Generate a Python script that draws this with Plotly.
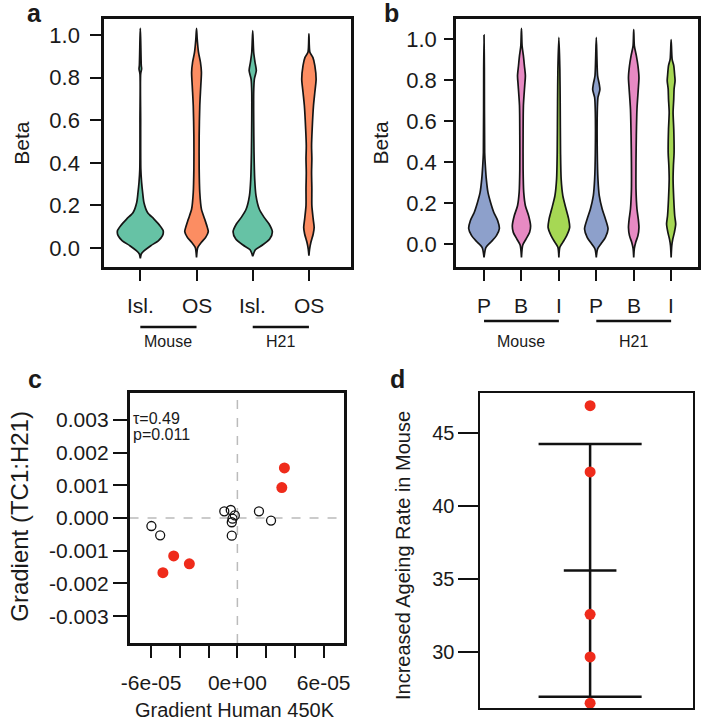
import numpy as np
import plotly.graph_objects as go

FONT = "Liberation Sans, Arial, Helvetica, sans-serif"
TXT = "#1a1a1a"

# ---------------- Panel a data (violin density profiles) ----
a_labels = ["Isl.", "OS", "Isl.", "OS"]
a_groups = ["Mouse", "H21"]
a_colors = ["#66C2A5", "#FC8D62", "#66C2A5", "#FC8D62"]

a1_beta = [1.031, 0.981, 0.856, 0.840, 0.817, 0.606, 0.371, 0.308, 0.261, 0.214, 0.167, 0.136, 0.105, 0.081, 0.058, 0.034, 0.011, -0.0125, -0.028, -0.049]
a1_hw = [0, .006, .017, .023, .006, .006, .009, .023, .041, .064, .128, .244, .349, .407, .395, .320, .186, .070, .017, 0]
a2_beta = [1.031, .981, .919, .872, .825, .762, .668, .527, .371, .261, .183, .136, .097, .077, .050, .027, .003, -.044]
a2_hw = [0, .012, .035, .070, .087, .076, .058, .047, .047, .058, .087, .145, .192, .209, .163, .087, .023, 0]
a3_beta = [1.020, .919, .872, .833, .793, .731, .606, .449, .324, .246, .183, .144, .113, .077, .042, .014, -.008, -.039]
a3_hw = [0, .017, .041, .064, .029, .017, .017, .023, .035, .058, .116, .203, .291, .349, .302, .174, .047, 0]
a4_beta = [1.005, .919, .895, .856, .793, .731, .668, .559, .480, .418, .355, .277, .199, .136, .097, .066, .027, -.005, -.036]
a4_hw = [0, .017, .070, .105, .128, .105, .081, .058, .047, .052, .047, .052, .052, .076, .093, .076, .035, .012, 0]

# ---------------- Panel b data ------------------------------------------------
b_labels = ["P", "B", "I", "P", "B", "I"]
b_groups = ["Mouse", "H21"]
b_colors = ["#8DA0CB", "#E78AC3", "#A6D854", "#8DA0CB", "#E78AC3", "#A6D854"]

b1_beta = [1.020, .854, .447, .382, .317, .252, .203, .154, .114, .076, .041, .011, -.016, -.065]
b1_hw = [0, .009, .017, .035, .061, .105, .175, .262, .366, .410, .332, .192, .052, 0]
b2_beta = [1.052, .967, .919, .870, .821, .772, .675, .528, .366, .252, .187, .138, .089, .057, .024, -.005, -.065]
b2_hw = [0, .017, .052, .079, .105, .087, .052, .044, .044, .061, .105, .192, .244, .218, .122, .035, 0]
b3_beta = [1.008, .854, .691, .447, .317, .236, .171, .122, .081, .041, .008, -.016, -.065]
b3_hw = [0, .026, .035, .044, .061, .105, .192, .262, .288, .209, .105, .026, 0]
b4_beta = [1.008, .821, .780, .753, .715, .642, .447, .317, .236, .171, .122, .073, .033, 0.0, -.024, -.065]
b4_hw = [0, .035, .079, .096, .044, .026, .026, .044, .079, .157, .244, .314, .244, .122, .035, 0]
b5_beta = [1.046, .967, .919, .870, .813, .756, .659, .528, .398, .268, .171, .122, .081, .041, .008, -.021, -.065]
b5_hw = [0, .017, .070, .113, .140, .122, .087, .070, .061, .061, .087, .122, .140, .113, .052, .017, 0]
b6_beta = [.997, .902, .870, .821, .797, .756, .707, .642, .561, .447, .382, .317, .220, .138, .098, .057, .024, -.008, -.065]
b6_hw = [0, .026, .070, .096, .105, .079, .070, .052, .070, .079, .061, .052, .070, .096, .122, .087, .044, .017, 0]

# ---------------- Panel c data ------------------------------------------------
c_open_x = [-5.98e-5, -5.37e-5, -0.91e-5, -0.46e-5, -0.18e-5, -0.34e-5, -0.39e-5, -0.39e-5, 1.50e-5, 2.34e-5]
c_open_y = [-0.000245, -0.00053, 0.000205, 0.000245, 0.00008, -0.00002, -0.00013, -0.00054, 0.000205, -0.00008]
c_red_x = [3.27e-5, 3.09e-5, -4.43e-5, -3.34e-5, -5.18e-5]
c_red_y = [0.00153, 0.00093, -0.00116, -0.0014, -0.00167]
c_xticks = [-6e-5, -4e-5, -2e-5, 0, 2e-5, 4e-5, 6e-5]
c_xticktext = ["-6e-05", "", "", "0e+00", "", "", "6e-05"]
c_yticks = [0.003, 0.002, 0.001, 0.0, -0.001, -0.002, -0.003]
c_yticktext = ["0.003", "0.002", "0.001", "0.000", "-0.001", "-0.002", "-0.003"]
c_stats = ["τ=0.49", "p=0.011"]

# ---------------- Panel d data ------------------------------------------------
d_values = [46.87, 42.33, 32.58, 29.66, 26.49]
d_yticks = [30, 35, 40, 45]


def px(x):
    return x / 708.0


def py(y):
    return 1 - y / 722.0


fig = go.Figure()


def add_violin(center, beta, hw, color, xa, ya):
    xr = [center + h for h in hw]
    xl = [center - h for h in hw][::-1]
    yy = list(beta) + list(beta)[::-1]
    fig.add_trace(go.Scatter(
        x=xr + xl, y=yy, mode="lines", fill="toself", fillcolor=color,
        line=dict(color="#151515", width=1.7, shape="spline", smoothing=0.7),
        xaxis=xa, yaxis=ya, hoverinfo="skip", showlegend=False))


a_prof = [(a1_beta, a1_hw), (a2_beta, a2_hw), (a3_beta, a3_hw), (a4_beta, a4_hw)]
for i, (bt, hw) in enumerate(a_prof):
    add_violin(i + 1, bt, hw, a_colors[i], "x", "y")

b_prof = [(b1_beta, b1_hw), (b2_beta, b2_hw), (b3_beta, b3_hw),
          (b4_beta, b4_hw), (b5_beta, b5_hw), (b6_beta, b6_hw)]
for i, (bt, hw) in enumerate(b_prof):
    add_violin(i + 1, bt, hw, b_colors[i], "x2", "y2")

# panel c
fig.add_trace(go.Scatter(x=c_open_x, y=c_open_y, mode="markers",
                         marker=dict(symbol="circle-open", size=9, color="#111",
                                     line=dict(width=1.3, color="#111")),
                         xaxis="x3", yaxis="y3", showlegend=False))
fig.add_trace(go.Scatter(x=c_red_x, y=c_red_y, mode="markers",
                         marker=dict(symbol="circle", size=11, color="#EF2B1B"),
                         xaxis="x3", yaxis="y3", showlegend=False))

# panel d
mean_d = float(np.mean(d_values))
sd_d = float(np.std(d_values, ddof=1))
LW = 2.5
fig.add_trace(go.Scatter(x=[1, 1], y=[mean_d - sd_d, mean_d + sd_d], mode="lines",
                         line=dict(color="#111", width=LW), xaxis="x4", yaxis="y4",
                         showlegend=False))
for yv, hwid in [(mean_d + sd_d, 0.235), (mean_d - sd_d, 0.235), (mean_d, 0.12)]:
    fig.add_trace(go.Scatter(x=[1 - hwid, 1 + hwid], y=[yv, yv], mode="lines",
                             line=dict(color="#111", width=LW), xaxis="x4", yaxis="y4",
                             showlegend=False))
fig.add_trace(go.Scatter(x=[1] * len(d_values), y=d_values, mode="markers",
                         marker=dict(size=11, color="#EF2B1B"),
                         xaxis="x4", yaxis="y4", showlegend=False))

box = dict(showline=True, mirror=True, linecolor="#111", linewidth=2.5,
           showgrid=False, zeroline=False, tickcolor="#111", tickwidth=1.5,
           tickfont=dict(family=FONT, size=22, color=TXT))

layout = dict(
    width=708, height=722, margin=dict(l=0, r=0, t=0, b=0),
    paper_bgcolor="white", plot_bgcolor="white", showlegend=False,
    font=dict(family=FONT, color=TXT),
    xaxis=dict(box, domain=[px(98), px(350)], range=[0.355, 4.75],
               tickvals=[1, 2, 3, 4], ticks="outside", ticklen=11,
               showticklabels=False, anchor="y"),
    yaxis=dict(box, domain=[py(267), py(19)], range=[-0.089, 1.075],
               tickvals=[0, 0.2, 0.4, 0.6, 0.8, 1.0],
               ticktext=["0.0", "0.2", "0.4", "0.6", "0.8", "1.0"],
               ticks="outside", ticklen=11, anchor="x", ticklabelstandoff=6),
    xaxis2=dict(box, domain=[px(457), px(704)], range=[0.25, 6.72],
                tickvals=[1, 2, 3, 4, 5, 6], ticks="outside", ticklen=11,
                showticklabels=False, anchor="y2"),
    yaxis2=dict(box, domain=[py(267), py(19)], range=[-0.112, 1.098],
                tickvals=[0, 0.2, 0.4, 0.6, 0.8, 1.0],
                ticktext=["0.0", "0.2", "0.4", "0.6", "0.8", "1.0"],
                ticks="outside", ticklen=9, anchor="x2", ticklabelstandoff=3),
    xaxis3=dict(box, domain=[px(124), px(343)], range=[-7.5e-5, 7.43e-5],
                tickvals=c_xticks, ticktext=c_xticktext, ticks="outside",
                ticklen=12, anchor="y3", ticklabelstandoff=7,
                tickfont=dict(family=FONT, size=21, color=TXT)),
    yaxis3=dict(box, domain=[py(643), py(393)], range=[-0.00382, 0.00382],
                tickvals=c_yticks, ticktext=c_yticktext, ticks="outside",
                ticklen=14, anchor="x3",
                tickfont=dict(family=FONT, size=21, color=TXT)),
    xaxis4=dict(box, domain=[px(482), px(699)], range=[0.5, 1.47],
                ticks="", showticklabels=False, anchor="y4", linewidth=2),
    yaxis4=dict(box, domain=[py(708), py(393)], range=[26.16, 47.74],
                tickvals=d_yticks, ticks="outside", ticklen=20, anchor="x4",
                linewidth=2, tickfont=dict(family=FONT, size=20, color=TXT)),
)
fig.update_layout(**layout)

ann = []
shapes = []


def text(x, y, s, size, xref="paper", angle=0, bold=False, xanchor="center"):
    ann.append(dict(x=x, y=y, xref=xref, yref="paper", text=("<b>%s</b>" % s) if bold else s,
                    showarrow=False, textangle=angle, xanchor=xanchor, yanchor="middle",
                    font=dict(family=FONT, size=size, color=TXT)))


# panel letters
text(px(27), py(13), "a", 25, bold=True)
text(px(391), py(13), "b", 25, bold=True)
text(px(28), py(379), "c", 25, bold=True)
text(px(397), py(379), "d", 25, bold=True)

# axis titles
text(px(13), py(143), "Beta", 21, angle=-90)
text(px(379), py(143), "Beta", 21, angle=-90)
text(px(11), py(516), "Gradient (TC1:H21)", 24, angle=-90)
text(px(232), py(710), "Gradient Human 450K", 20)
text(px(403), py(556), "Increased Ageing Rate in Mouse", 20, angle=-90)

# category labels + group bars, panel a
for i, lab in enumerate(a_labels):
    text(i + 1, py(305), lab, 21, xref="x")
for g, name in enumerate(a_groups):
    x0, x1 = 2 * g + 1, 2 * g + 2
    shapes.append(dict(type="line", xref="x", yref="paper", x0=x0, x1=x1,
                       y0=py(327), y1=py(327), line=dict(color="#111", width=2.5)))
    text((x0 + x1) / 2, py(342), name, 16, xref="x")

# panel b
for i, lab in enumerate(b_labels):
    text(i + 1, py(305), lab, 21, xref="x2")
for g, name in enumerate(b_groups):
    x0, x1 = 3 * g + 1, 3 * g + 3
    shapes.append(dict(type="line", xref="x2", yref="paper", x0=x0, x1=x1,
                       y0=py(321), y1=py(321), line=dict(color="#111", width=2.5)))
    text((x0 + x1) / 2, py(342), name, 16, xref="x2")

# panel c stats text and dashed zero lines
text(px(125), py(418), c_stats[0], 16, xanchor="left")
text(px(125), py(434), c_stats[1], 16, xanchor="left")
shapes.append(dict(type="line", xref="x3", yref="y3 domain", x0=0, x1=0, y0=0, y1=1,
                   line=dict(color="#BBBBBB", width=1.5, dash="dash"), layer="below"))
shapes.append(dict(type="line", xref="x3 domain", yref="y3", x0=0, x1=1, y0=0, y1=0,
                   line=dict(color="#BBBBBB", width=1.5, dash="dash"), layer="below"))

fig.update_layout(annotations=ann, shapes=shapes)
fig.write_html("out.html", config={"displayModeBar": False},
               post_script="document.body.style.margin='0';document.body.style.padding='0';")
